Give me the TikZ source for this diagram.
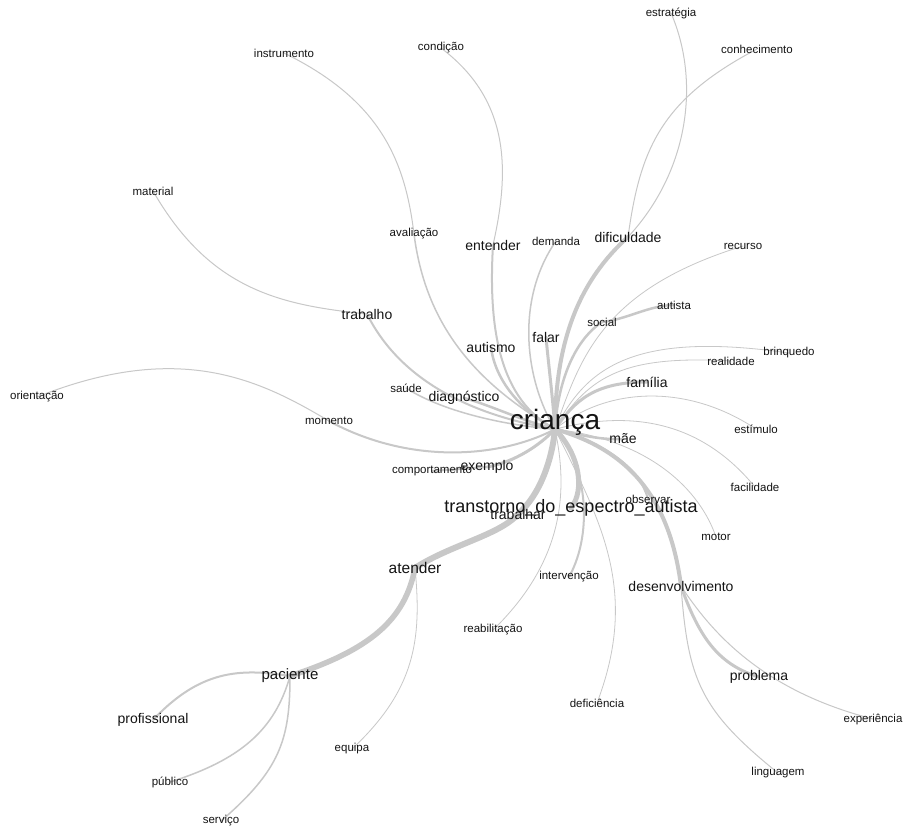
\documentclass[tikz,border=0pt]{standalone}
\usepackage{fontspec}
\setmainfont{Liberation Sans}
\usetikzlibrary{backgrounds}
\definecolor{linkgray}{HTML}{C8C8C8}
\tikzset{
  word/.style={inner sep=0pt, text=black!92},
  wsmall/.style={word, font=\fontsize{11.5}{13}\selectfont},
  wmed/.style={word, font=\fontsize{14}{16}\selectfont},
  wbig/.style={word, font=\fontsize{18}{20}\selectfont},
  whuge/.style={word, font=\fontsize{28}{30}\selectfont},
  link/.style={draw=linkgray, line width=#1, line cap=round},
  link/.default=1pt
}
\begin{document}
\begin{tikzpicture}[x=1pt, y=-1pt]
  \useasboundingbox (0,0) rectangle (904,831);
  \node[whuge] (crianca) at (555,422) {criança};
  \node[wbig] (tea) at (571,508) {transtorno\_do\_espectro\_autista};
  \node[wmed] (dificuldade) at (628,237) {dificuldade};
  \node[wmed] (entender) at (493,245) {entender};
  \node[wmed] (autismo) at (491,347) {autismo};
  \node[wmed] (falar) at (546,337) {falar};
  \node[wmed] (familia) at (647,382) {família};
  \node[wmed] (mae) at (623,439) {mãe};
  \node[wmed] (trabalho) at (367,314) {trabalho};
  \node[wmed] (diagnostico) at (464,398) {diagnóstico};
  \node[wmed] (exemplo) at (487,467) {exemplo};
  \node[wmed] (trabalhar) at (518,514) {trabalhar};
  \node[wmed] (desenvolvimento) at (681,586) {desenvolvimento};
  \node[wmed] (problema) at (759,677) {problema};
  \node[wmed, font=\fontsize{15.5}{17}\selectfont] (atender) at (415,568) {atender};
  \node[wmed, font=\fontsize{15}{17}\selectfont] (paciente) at (290,676) {paciente};
  \node[wmed] (profissional) at (153,720) {profissional};
  \node[wsmall] (estrategia) at (671,13) {estratégia};
  \node[wsmall] (conhecimento) at (757,49) {conhecimento};
  \node[wsmall] (instrumento) at (284,53) {instrumento};
  \node[wsmall] (condicao) at (441,48) {condição};
  \node[wsmall] (material) at (153,191) {material};
  \node[wsmall] (avaliacao) at (414,234) {avaliação};
  \node[wsmall] (demanda) at (556,241) {demanda};
  \node[wsmall] (recurso) at (743,246) {recurso};
  \node[wsmall] (autista) at (674,305) {autista};
  \node[wsmall] (social) at (602,322) {social};
  \node[wsmall] (brinquedo) at (789,353) {brinquedo};
  \node[wsmall] (realidade) at (731,361) {realidade};
  \node[wsmall] (saude) at (406,388) {saúde};
  \node[wsmall] (orientacao) at (37,397) {orientação};
  \node[wsmall] (momento) at (329,421) {momento};
  \node[wsmall] (estimulo) at (756,429) {estímulo};
  \node[wsmall] (comportamento) at (432,471) {comportamento};
  \node[wsmall] (facilidade) at (755,487) {facilidade};
  \node[wsmall] (observar) at (648,499) {observar};
  \node[wsmall] (motor) at (716,537) {motor};
  \node[wsmall] (intervencao) at (569,577) {intervenção};
  \node[wsmall] (reabilitacao) at (493,630) {reabilitação};
  \node[wsmall] (deficiencia) at (597,703) {deficiência};
  \node[wsmall] (experiencia) at (873,719) {experiência};
  \node[wsmall] (equipa) at (352,749) {equipa};
  \node[wsmall] (linguagem) at (778,773) {linguagem};
  \node[wsmall] (publico) at (170,782) {público};
  \node[wsmall] (servico) at (221,821) {serviço};
  \begin{scope}[on background layer]
    \fill[white] (0,0) rectangle (904,831);
    \draw[link=6pt] (crianca.base) .. controls (552,460) and (540,495) .. (trabalhar.center);
    \draw[link=6pt] (trabalhar.center) .. controls (500,535) and (450,545) .. (atender.center);
    \draw[link=5.5pt] (atender.center) .. controls (405,620) and (370,650) .. (paciente.center);
    \draw[link=2pt] (paciente.center) .. controls (240,668) and (200,670) .. (profissional.center);
    \draw[link=1.5pt] (paciente.center) .. controls (275,730) and (240,760) .. (publico.center);
    \draw[link=1.5pt] (paciente.center) .. controls (290,740) and (280,770) .. (servico.center);
    \draw[link=0.8pt] (atender.center) .. controls (422,640) and (415,690) .. (equipa.center);
    \draw[link=5pt] (crianca.base) .. controls (580,455) and (585,490) .. (tea.center);
    \draw[link=4pt] (crianca.base) .. controls (555,340) and (580,280) .. (dificuldade.center);
    \draw[link=1pt] (dificuldade.center) .. controls (690,170) and (700,80) .. (estrategia.center);
    \draw[link=1pt] (dificuldade.center) .. controls (640,150) and (660,100) .. (conhecimento.center);
    \draw[link=2pt] (crianca.base) .. controls (500,400) and (488,330) .. (entender.center);
    \draw[link=1pt] (entender.center) .. controls (510,170) and (510,100) .. (condicao.center);
    \draw[link=2.5pt] (crianca.base) .. controls (520,410) and (495,380) .. (autismo.center);
    \draw[link=1.5pt] (crianca.base) .. controls (470,380) and (425,320) .. (avaliacao.center);
    \draw[link=1pt] (avaliacao.center) .. controls (405,160) and (380,100) .. (instrumento.center);
    \draw[link=2pt] (crianca.base) .. controls (470,415) and (400,380) .. (trabalho.center);
    \draw[link=1pt] (trabalho.center) .. controls (280,305) and (210,290) .. (material.center);
    \draw[link=1.5pt] (crianca.base) .. controls (500,425) and (440,410) .. (saude.center);
    \draw[link=2.5pt] (crianca.base) .. controls (520,420) and (490,405) .. (diagnostico.center);
    \draw[link=2pt] (crianca.base) .. controls (500,458) and (410,465) .. (momento.center);
    \draw[link=1pt] (momento.center) .. controls (260,380) and (180,340) .. (orientacao.center);
    \draw[link=3pt] (crianca.base) .. controls (540,445) and (515,462) .. (exemplo.center);
    \draw[link=2pt] (exemplo.center) -- (comportamento.center);
    \draw[link=2pt] (crianca.base) .. controls (585,460) and (595,530) .. (intervencao.center);
    \draw[link=0.8pt] (crianca.base) .. controls (568,490) and (565,560) .. (reabilitacao.center);
    \draw[link=0.8pt] (crianca.base) .. controls (600,520) and (640,590) .. (deficiencia.center);
    \draw[link=2.5pt] (crianca.base) .. controls (580,435) and (600,440) .. (mae.center);
    \draw[link=4pt] (crianca.base) .. controls (630,450) and (670,500) .. (desenvolvimento.center);
    \draw[link=3pt] (desenvolvimento.center) .. controls (700,640) and (720,665) .. (problema.center);
    \draw[link=1pt] (desenvolvimento.center) .. controls (710,630) and (760,690) .. (experiencia.center);
    \draw[link=1pt] (desenvolvimento.center) .. controls (688,680) and (700,710) .. (linguagem.center);
    \draw[link=2pt] (crianca.base) .. controls (610,445) and (640,470) .. (observar.center);
    \draw[link=0.8pt] (crianca.base) .. controls (650,440) and (700,490) .. (motor.center);
    \draw[link=3pt] (crianca.base) .. controls (552,390) and (548,360) .. (falar.center);
    \draw[link=1.5pt] (crianca.base) .. controls (525,380) and (515,300) .. (demanda.center);
    \draw[link=3pt] (crianca.base) .. controls (575,400) and (595,382) .. (familia.center);
    \draw[link=2.5pt] (crianca.base) .. controls (558,380) and (575,340) .. (social.center);
    \draw[link=2.5pt] (social.center) .. controls (625,320) and (650,305) .. (autista.center);
    \draw[link=0.8pt] (crianca.base) .. controls (580,360) and (600,290) .. (recurso.center);
    \draw[link=0.8pt] (crianca.base) .. controls (590,375) and (625,355) .. (realidade.center);
    \draw[link=0.8pt] (crianca.base) .. controls (585,370) and (630,330) .. (brinquedo.center);
    \draw[link=0.8pt] (crianca.base) .. controls (610,385) and (690,385) .. (estimulo.center);
    \draw[link=0.8pt] (crianca.base) .. controls (630,410) and (700,420) .. (facilidade.center);
  \end{scope}
\end{tikzpicture}
\end{document}
